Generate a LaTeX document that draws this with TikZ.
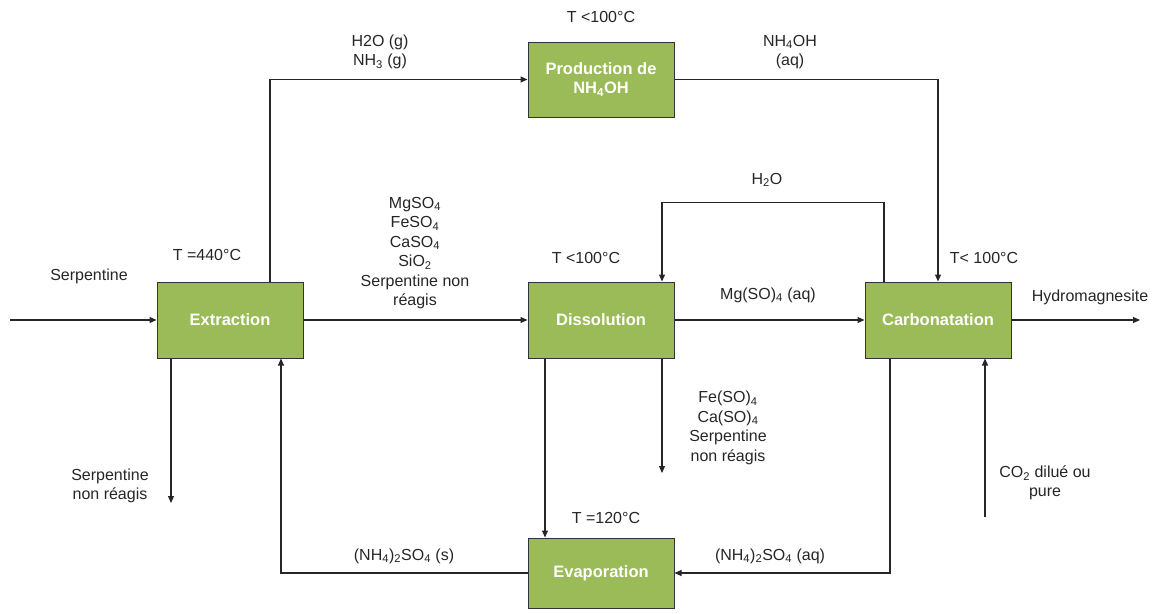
\documentclass[tikz,border=0pt]{standalone}
\usepackage{fontspec}
\setmainfont{Liberation Sans}
\usetikzlibrary{arrows.meta}
\definecolor{boxgreen}{HTML}{9BBB59}
\newcommand{\ind}[1]{\textsubscript{#1}}
\tikzset{
  procbox/.style={draw=black!80, line width=1pt, fill=boxgreen, text=white,
    font=\bfseries\fontsize{16.5}{19}\selectfont, minimum width=146pt,
    minimum height=76pt, inner sep=0pt, align=center},
  flow/.style={line width=1.1pt, draw=black!85, -{Triangle[length=7pt,width=6pt]}},
  lab/.style={font=\fontsize{16}{19.5}\selectfont, text=black!85, align=center, inner sep=0pt},
}
\begin{document}
\begin{tikzpicture}[x=1pt,y=-1pt]
  \fill[white] (0,0) rectangle (1153,613);
  \useasboundingbox (0,0) rectangle (1153,613);
  % process blocks
  \node[procbox] (ext) at (230,320) {Extraction};
  \node[procbox] (diss) at (601,320) {Dissolution};
  \node[procbox] (carb) at (938,320) {Carbonatation};
  \node[procbox, minimum height=75pt] (prod) at (601,79.5) {Production de\\NH\ind{4}OH};
  \node[procbox, minimum height=70pt] (evap) at (601,573) {Evaporation};
  % free ends
  \coordinate (feed) at (10,320);
  \coordinate (hydroout) at (1140,320);
  \coordinate (rejet1) at (171,503);
  \coordinate (rejet2) at (662,473);
  \coordinate (co2in) at (985,517);
  % streams
  \draw[flow] (feed) -- (ext);
  \draw[flow] ([xshift=40pt]ext.north) |- (prod.west);
  \draw[flow] (ext) -- (diss);
  \draw[flow] ([xshift=-59pt]ext.south) -- (rejet1);
  \draw[flow] (evap.west) -| ([xshift=51pt]ext.south);
  \draw[flow] ([xshift=-56pt]diss.south) -- ([xshift=-56pt]evap.north);
  \draw[flow] ([xshift=61pt]diss.south) -- (rejet2);
  \draw[flow] (diss) -- (carb);
  \draw[flow] ([xshift=-54pt]carb.north) -- ++(0,-79) -| ([xshift=61pt]diss.north);
  \draw[flow] (prod.east) -| (carb.north);
  \draw[flow] (carb) -- (hydroout);
  \draw[flow] (co2in) -- ([xshift=47pt]carb.south);
  \draw[flow] ([xshift=-48pt]carb.south) |- (evap.east);
  % labels
  \node[lab] (tprod) at (601,17) {T <100°C};
  \node[lab] (gaz) at (380,52) {H2O (g)\\NH\ind{3} (g)};
  \node[lab] (nh4oh) at (790,52) {NH\ind{4}OH\\(aq)};
  \node[lab] (solides) at (415,253) {MgSO\ind{4}\\FeSO\ind{4}\\CaSO\ind{4}\\SiO\ind{2}\\Serpentine non\\réagis};
  \node[lab] (text) at (207,255) {T =440°C};
  \node[lab] (tdiss) at (586,258) {T <100°C};
  \node[lab] (tcarb) at (984,258) {T< 100°C};
  \node[lab] (eau) at (767,180) {H\ind{2}O};
  \node[lab] (mgaq) at (768,295) {Mg(SO)\ind{4} (aq)};
  \node[lab] (hydro) at (1090,297) {Hydromagnesite};
  \node[lab] (serp) at (89,276) {Serpentine};
  \node[lab] (serpnr) at (110,486) {Serpentine\\non réagis};
  \node[lab] (impur) at (728,428) {Fe(SO)\ind{4}\\Ca(SO)\ind{4}\\Serpentine\\non réagis};
  \node[lab] (co2lab) at (1045,483) {CO\ind{2} dilué ou\\pure};
  \node[lab] (sulfs) at (404,556) {(NH\ind{4})\ind{2}SO\ind{4} (s)};
  \node[lab] (sulfaq) at (770,556) {(NH\ind{4})\ind{2}SO\ind{4} (aq)};
  \node[lab] (tevap) at (606,518) {T =120°C};
\end{tikzpicture}
\end{document}
